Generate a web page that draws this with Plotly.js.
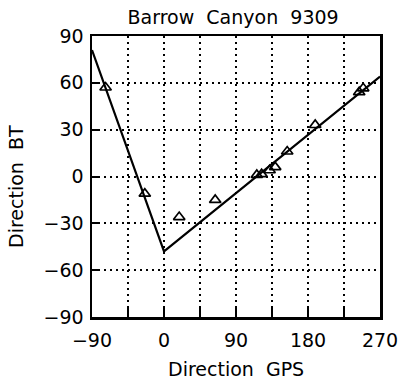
<!DOCTYPE html>
<html>
<head>
<meta charset="utf-8">
<script src="https://cdn.plot.ly/plotly-3.0.1.min.js"></script>
<style>html,body{margin:0;padding:0;background:#fff;}</style>
</head>
<body>
<div id="chart" style="width:399px;height:381px;"></div>
<script>
// Observations (triangles)
var gpsDir = [-73, -24, 19, 64, 116, 122, 132, 139, 154, 189, 244, 249];
var btDir  = [57, -11, -26, -15, 1, 1.5, 4, 6, 16, 33, 54, 56.5];
// Fitted V-shaped line
var fitGps = [-90, 0, 270];
var fitBt  = [81, -48, 64];
var xTickVals = [-90, 0, 90, 180, 270];
var xMinorVals = [-45, 45, 135, 225];
var yTickVals = [-90, -60, -30, 0, 30, 60, 90];

function lbl(v){ return v < 0 ? '\u2212' + (-v) : String(v); }

var font = {family: 'DejaVu Sans, sans-serif', color: '#000', size: 19};
var grid = {gridcolor: '#000', gridwidth: 2, griddash: '2px,4px'};

var traces = [
  {x: fitGps, y: fitBt, mode: 'lines', line: {color: '#000', width: 2.2}, hoverinfo: 'skip'},
  {x: gpsDir, y: btDir, mode: 'markers',
   marker: {symbol: 'triangle-up-open', size: 10, color: '#000', line: {color: '#000', width: 1.7}}}
];

var layout = {
  width: 399, height: 381,
  margin: {l: 92, r: 19, t: 36, b: 64},
  paper_bgcolor: '#fff', plot_bgcolor: '#fff',
  showlegend: false,
  font: font,
  title: {text: 'Barrow\u00a0\u00a0Canyon\u00a0\u00a09309', font: font, xref: 'paper', x: 0.49, xanchor: 'center', yref: 'container', y: 1 - 17/381, yanchor: 'middle'},
  xaxis: {
    range: [-90, 270], tickvals: xTickVals, ticktext: xTickVals.map(lbl),
    ticks: 'inside', ticklen: 10, tickwidth: 2, tickcolor: '#000', ticklabelstandoff: 5,
    showline: true, linewidth: 2.5, linecolor: '#000', mirror: true,
    showgrid: true, gridcolor: grid.gridcolor, gridwidth: grid.gridwidth, griddash: grid.griddash,
    minor: {tickvals: xMinorVals, ticks: 'inside', ticklen: 10, tickwidth: 2, tickcolor: '#000',
            showgrid: true, gridcolor: grid.gridcolor, gridwidth: grid.gridwidth, griddash: grid.griddash},
    zeroline: false, tickfont: font
  },
  yaxis: {
    range: [-90, 90], tickvals: yTickVals, ticktext: yTickVals.map(lbl),
    ticks: 'inside', ticklen: 8, tickwidth: 2, tickcolor: '#000', ticklabelstandoff: 2,
    showline: true, linewidth: 2.5, linecolor: '#000', mirror: true,
    showgrid: true, gridcolor: grid.gridcolor, gridwidth: grid.gridwidth, griddash: grid.griddash,
    zeroline: false, tickfont: font
  },
  annotations: [
    {text: 'Direction\u00a0\u00a0GPS', xref: 'paper', yref: 'paper', x: 0.5, y: -(369 - 317) / 281,
     xanchor: 'center', yanchor: 'middle', showarrow: false, font: font},
    {text: 'Direction\u00a0\u00a0BT', xref: 'paper', yref: 'paper', x: -(92 - 16) / 288, y: (317 - 187) / 281,
     xanchor: 'center', yanchor: 'middle', textangle: -90, showarrow: false, font: font}
  ]
};

Plotly.newPlot('chart', traces, layout, {staticPlot: true, displayModeBar: false});
</script>
</body>
</html>
